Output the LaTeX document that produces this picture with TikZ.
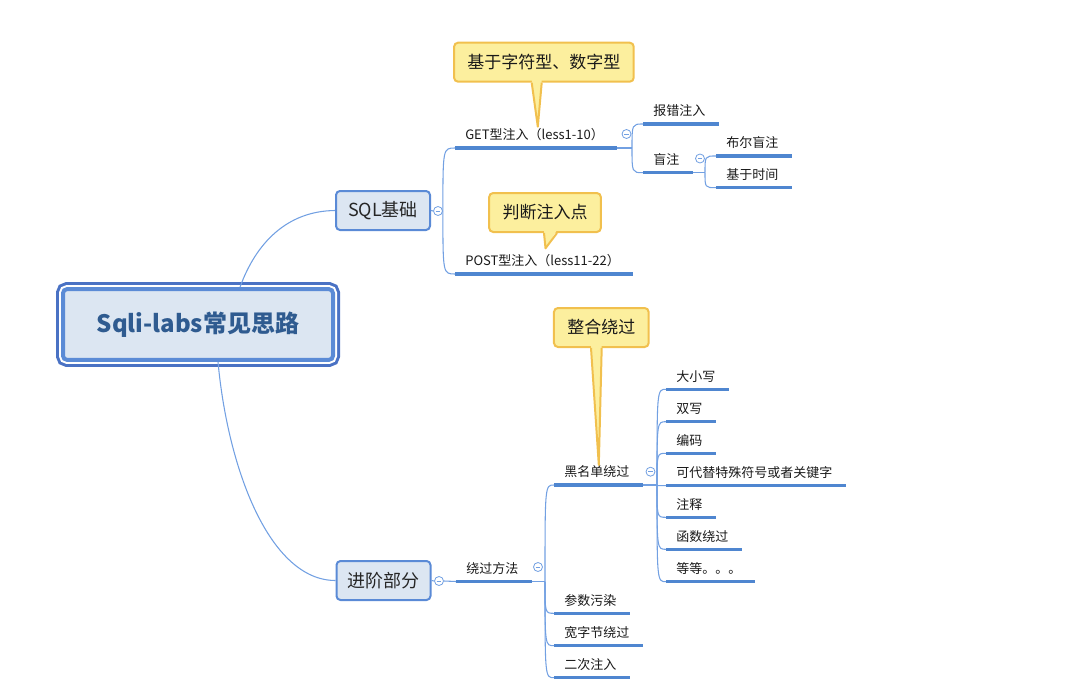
\documentclass[tikz,border=0pt]{standalone}
\usepackage{fontspec}
\setmainfont{Noto Sans CJK SC}
\usetikzlibrary{calc,positioning}

\definecolor{rootfill}{HTML}{DCE6F2}
\definecolor{rootout}{HTML}{4A72C4}
\definecolor{rootin}{HTML}{5B8BD6}
\definecolor{roottext}{HTML}{2F5B90}
\definecolor{boxfill}{HTML}{DCE6F2}
\definecolor{boxline}{HTML}{5A8AD6}
\definecolor{uline}{HTML}{4F86D0}
\definecolor{wire}{HTML}{72A0E2}
\definecolor{notefill}{HTML}{FCEF9E}
\definecolor{noteline}{HTML}{F1C04E}

\tikzset{
  root/.style={draw=rootin, line width=3pt, fill=rootfill, rounded corners=3pt,
    minimum width=202.5pt, minimum height=53pt,
    preaction={draw=rootout, line width=10.5pt},
    preaction={draw=white, line width=6pt},
    font=\fontsize{18pt}{22pt}\selectfont\bfseries, text=roottext},
  branch/.style={draw=boxline, fill=boxfill, line width=1.5pt, rounded corners=3pt,
    minimum width=70.5pt, minimum height=29.25pt,
    font=\fontsize{13.5pt}{16pt}\selectfont, text=black!85},
  topic/.style={anchor=south west, inner xsep=7.5pt, inner ysep=0pt,
    text height=8pt, text depth=6pt, text=black!90,
    font=\fontsize{9.75pt}{11pt}\selectfont},
  under/.style={draw=uline, line width=2.4pt},
  link/.style={draw=wire, line width=0.8pt},
  fold/.style={circle, draw=wire, fill=white, line width=0.6pt, minimum size=6.75pt, inner sep=0pt,
    path picture={\draw[wire, line width=0.6pt] ([xshift=-1.8pt]path picture bounding box.center) -- ([xshift=1.8pt]path picture bounding box.center);}},
  note/.style={draw=noteline, fill=notefill, line width=1.5pt, rounded corners=3pt,
    inner xsep=10pt, minimum height=29.25pt, text=black!90,
    font=\fontsize{12.75pt}{15pt}\selectfont},
  tail/.style={draw=noteline, line width=1.5pt, line join=round}
}

\begin{document}
\begin{tikzpicture}[x=0.75pt,y=-0.75pt]
\useasboundingbox (0,0) rectangle (1077,688);

% main topics
\node[root] (root) at (198,324.5) {Sqli-labs常见思路};
\node[branch] (sql) at (383,210.5) {SQL基础};
\node[branch] (adv) at (383.5,580.5) {进阶部分};

% SQL basics
\node[topic] (get) at (455,148) {GET型注入（less1-10）};
\node[topic] (post) at (455,274) {POST型注入（less11-22）};
\node[topic] (err) at (643,124) {报错注入};
\node[topic] (blind) at (643,172.7) {盲注};
\node[topic] (bool) at (716,156) {布尔盲注};
\node[topic] (time) at (716,187.7) {基于时间};

% advanced part
\node[topic] (bypass) at (456,581.5) {绕过方法};
\node[topic] (black) at (554,485) {黑名单绕过};
\node[topic] (param) at (554,613.3) {参数污染};
\node[topic] (wide) at (554,645.7) {宽字节绕过};
\node[topic] (second) at (554,677.7) {二次注入};
\node[topic] (case) at (666,389.3) {大小写};
\node[topic] (dbl) at (666,421.7) {双写};
\node[topic] (enc) at (666,453.3) {编码};
\node[topic] (alt) at (666,485.7) {可代替特殊符号或者关键字};
\node[topic] (cmt) at (666,517.3) {注释};
\node[topic] (func) at (666,549.3) {函数绕过};
\node[topic] (etc) at (666,581.7) {等等。。。};

% folds and forks
\node[fold] (sqlfold) at (438,211) {};
\node[fold] (advfold) at (439,581) {};
\node[fold] (getfold) at (626.5,134) {};
\node[fold] (blindfold) at (700,158.5) {};
\node[fold] (blackfold) at (650.5,471.7) {};
\node[fold] (bypassfold) at (538,567) {};
\coordinate (getfork) at (632,148);
\coordinate (blindfork) at (705,172.7);
\coordinate (blackfork) at (657,485);
\coordinate (bypassfork) at (545,581.5);

% connectors
\draw[link] ($(root.north)+(42,0)$) .. controls (256,243) and (287,211) .. (sql.west);
\draw[link] ($(root.south)+(20,0)$) .. controls (228,470) and (270,580.5) .. (adv.west);
\draw[link] (sql.east) -- (sqlfold.west);
\draw[link] (adv.east) -- (advfold.west) (advfold.east) -- (bypass.south west);
\foreach \k in {get,post}
  \draw[link] (sqlfold.east) .. controls (sqlfold.east |- \k.south west) .. (\k.south west);
\draw[link] (get.south east) -- (getfork);
\foreach \k in {err,blind}
  \draw[link] (getfork) .. controls (getfork |- \k.south west) .. (\k.south west);
\draw[link] (blind.south east) -- (blindfork);
\foreach \k in {bool,time}
  \draw[link] (blindfork) .. controls (blindfork |- \k.south west) .. (\k.south west);
\draw[link] (bypass.south east) -- (bypassfork);
\foreach \k in {black,param,wide,second}
  \draw[link] (bypassfork) .. controls (bypassfork |- \k.south west) .. (\k.south west);
\draw[link] (black.south east) -- (blackfork);
\foreach \k in {case,dbl,enc,alt,cmt,func,etc}
  \draw[link] (blackfork) .. controls (blackfork |- \k.south west) .. (\k.south west);

% underlines
\foreach \k in {get,post,err,blind,bool,time,bypass,black,param,wide,second,case,dbl,enc,alt,cmt,func,etc}
  \draw[under] (\k.south west) -- ([xshift=2.25pt]\k.south east);

% notes
\node[note] (n1) at (543.9,62.2) {基于字符型、数字型};
\node[note] (n2) at (545,212.5) {判断注入点};
\node[note] (n3) at (601.3,327.5) {整合绕过};
\coordinate (tip1) at (537.8,126.7);
\coordinate (tip2) at (545.5,248.3);
\coordinate (tip3) at (598.8,465);
\fill[notefill] ($(n1.south)+(-12.2,-3)$) -- (tip1) -- ($(n1.south)+(-2.2,-3)$) -- cycle;
\draw[tail] ($(n1.south)+(-12.2,0)$) -- (tip1) -- ($(n1.south)+(-2.2,0)$);
\fill[notefill] ($(n2.south)+(-1,-3)$) -- (tip2) -- ($(n2.south)+(12,-3)$) -- cycle;
\draw[tail] ($(n2.south)+(-1,0)$) -- (tip2) -- ($(n2.south)+(12,0)$);
\fill[notefill] ($(n3.south)+(-10.3,-3)$) -- (tip3) -- ($(n3.south)+(0.4,-3)$) -- cycle;
\draw[tail] ($(n3.south)+(-10.3,0)$) -- (tip3) -- ($(n3.south)+(0.4,0)$);
\end{tikzpicture}
\end{document}
